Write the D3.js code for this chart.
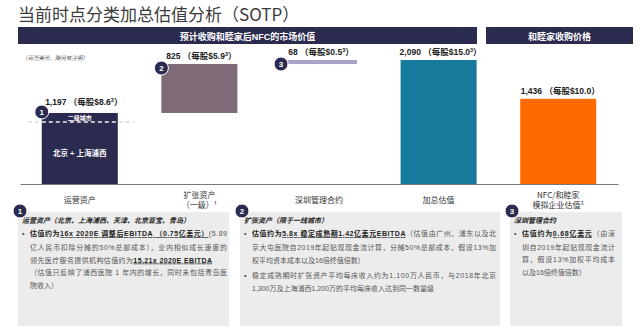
<!DOCTYPE html>
<html><head><meta charset="utf-8">
<script src="https://cdn.jsdelivr.net/npm/d3@7"></script>
<style>
html,body{margin:0;padding:0;background:#fff;}
svg{display:block;font-family:"Liberation Sans","Noto Sans CJK SC",sans-serif;}
.cjk{font-family:"Liberation Sans","Noto Sans CJK SC",sans-serif;}
</style></head>
<body>
<svg id="c" width="640" height="329"></svg>
<script>
// ---------- data ----------
const categories = ["运营资产", "扩张资产", "深圳管理合约", "加总估值", "NFC/和睦家"];
const categoryLines = [["运营资产"], ["扩张资产", "（一级）¹"], ["深圳管理合约"], ["加总估值"], ["NFC/和睦家", "模拟企业估值²"]];
const values = [1197, 825, 68, 2090, 1436];
const isTotal = [false, false, false, true, true];
const perShare = ["8.6", "5.9", "0.5", "15.0", "10.0"];
const perShareNote = ["3", "3", "3", "3", ""];
const badges = ["1", "2", "3", "", ""];
const operatingSplit = [1045, 152]; // 北京+上海浦西, 二级城市
const headers = ["预计收购和睦家后NFC的市场价值", "和睦家收购价格"];

// ---------- styles ----------
const barColors = ["#2b2a4f", "#7f6b77", "#aaa2c9", "#157a9b", "#ff6a00"];
const navy = "#2b2a4f";

const svg = d3.select("#c");

// title
svg.append("text").attr("x", 18).attr("y", 21)
  .attr("font-family", "'Noto Sans CJK SC',sans-serif")
  .attr("font-size", 17).attr("fill", "#3b3b3b")
  .text("当前时点分类加总估值分析（SOTP）");

// header bars
const headerBoxes = [[18, 477], [486, 633]];
headerBoxes.forEach((b, i) => {
  svg.append("rect").attr("x", b[0]).attr("y", 27).attr("width", b[1] - b[0]).attr("height", 17).attr("fill", navy);
  svg.append("text").attr("x", (b[0] + b[1]) / 2).attr("y", 39.5).attr("text-anchor", "middle")
    .attr("font-size", 9).attr("font-weight", "bold").attr("fill", "#fff").text(headers[i]);
});

// unit note
svg.append("text").attr("x", 22).attr("y", 60).attr("font-size", 5.5).attr("font-style", "italic")
  .attr("fill", "#555").text("（百万美元，除另有注明）");

// scales
const x = d3.scaleBand().domain(categories).range([20, 618]).paddingInner(0.3645).paddingOuter(0.182);
const y = d3.scaleLinear().domain([0, 2090]).range([184, 60]);

// waterfall data
let run = 0;
const bars = values.map((v, i) => {
  let b0, b1;
  if (isTotal[i]) { b0 = 0; b1 = v; }
  else { b0 = run; b1 = run + v; run += v; }
  return { cat: categories[i], v, b0, b1, i };
});

const g = svg.append("g");
g.selectAll("rect.bar").data(bars).join("rect").attr("class", "bar")
  .attr("x", d => x(d.cat)).attr("width", x.bandwidth())
  .attr("y", d => y(d.b1)).attr("height", d => y(d.b0) - y(d.b1))
  .attr("fill", (d, i) => barColors[i]);

// dashed split in operating assets bar
const splitY = y(operatingSplit[0]);
g.append("line").attr("x1", 28).attr("x2", 135).attr("y1", splitY).attr("y2", splitY)
  .attr("stroke", "#c8c8c8").attr("stroke-width", 1.2).attr("stroke-dasharray", "4,3");
g.append("line").attr("x1", x(categories[0])).attr("x2", x(categories[0]) + x.bandwidth())
  .attr("y1", splitY).attr("y2", splitY)
  .attr("stroke", "#fff").attr("stroke-width", 1.2).attr("stroke-dasharray", "4,3");
const cx0 = x(categories[0]) + x.bandwidth() / 2;
g.append("text").attr("x", cx0).attr("y", (y(values[0]) + splitY) / 2 + 2.2).attr("text-anchor", "middle")
  .attr("font-size", 6).attr("font-weight", "bold").attr("fill", "#fff").text("二级城市");
g.append("text").attr("x", cx0).attr("y", (splitY + y(0)) / 2 + 3).attr("text-anchor", "middle")
  .attr("font-size", 7.5).attr("font-weight", "bold").attr("fill", "#fff").text("北京 + 上海浦西");

// value labels
const fmt = d3.format(",");
bars.forEach(d => {
  const t = g.append("text").attr("x", x(d.cat) + x.bandwidth() / 2 + (d.i === 0 ? 4 : 2))
    .attr("y", y(d.b1) - (d.i === 0 ? 8 : 5)).attr("text-anchor", "middle")
    .attr("font-size", 8.5).attr("font-weight", "bold").attr("fill", "#222");
  t.append("tspan").text(fmt(d.v) + " （每股$" + perShare[d.i]);
  if (perShareNote[d.i]) t.append("tspan").attr("font-size", 5.5).attr("dy", -3).text(perShareNote[d.i]);
  t.append("tspan").attr("dy", perShareNote[d.i] ? 3 : 0).text("）");
});

// badges in chart
function badge(parent, cx, cy, label) {
  parent.append("circle").attr("cx", cx).attr("cy", cy).attr("r", 7).attr("fill", navy)
    .attr("stroke", "#fff").attr("stroke-width", 1);
  parent.append("text").attr("x", cx).attr("y", cy + 3).attr("text-anchor", "middle")
    .attr("font-size", 8).attr("font-weight", "bold").attr("fill", "#fff").text(label);
}
bars.forEach(d => {
  if (badges[d.i]) badge(g, x(d.cat), y(d.b1) + (d.i === 0 ? -1 : 4), badges[d.i]);
});

// x axis
const ax = svg.append("g").attr("transform", "translate(0,184)")
  .call(d3.axisBottom(x).tickSize(0).tickSizeOuter(0).tickFormat(""));
ax.select(".domain").attr("stroke", "#777").attr("stroke-width", 1);
ax.selectAll(".tick").each(function (c, i) {
  const lines = categoryLines[i];
  const t = d3.select(this).append("text").attr("fill", "#333").attr("font-size", 8)
    .attr("text-anchor", "middle").attr("font-family", "'Noto Sans CJK SC',sans-serif");
  const y0 = lines.length === 1 ? 19 : 14;
  lines.forEach((l, k) => t.append("tspan").attr("x", 0).attr("y", y0 + k * 9.5).text(l));
});

// ---------- bottom panels ----------
const panels = [
  { x0: 18, x1: 229, badge: "1", head: "运营资产（北京、上海浦西、天津、北京亚宝、青岛）",
    lines: [
      { b: true, y: 236, parts: [["估值约为", "b"], ["16x 2020E 调整后EBITDA （0.75亿美元）", "bu"], ["(5.89", "n"]], fit: 197 },
      { y: 250, parts: [["亿人民币扣除分摊的50%总部成本），业内相似成长速度的", "n"]], fit: 197 },
      { y: 262.5, parts: [["领先医疗服务提供机构估值约为", "n"], ["15.21x 2020E EBITDA", "bu"]], fit: 182 },
      { y: 275, parts: [["（估值只反映了浦西医院 1 年内的增长，同时未包括青岛医", "n"]], fit: 197 },
      { y: 287.5, parts: [["院收入）", "n"]] }
    ] },
  { x0: 240, x1: 500, badge: "2", head: "扩张资产（限于一线城市）",
    lines: [
      { b: true, y: 236, parts: [["估值约为", "b"], ["5.8x 稳定成熟期1.42亿美元EBITDA", "bu"], ["（估值由广州、浦东以及北", "n"]], fit: 244 },
      { y: 250, parts: [["京大屯医院自2019年起贴现现金流计算，分摊50%总部成本，假设13%加", "n"]], fit: 244 },
      { y: 262.5, parts: [["权平均资本成本以及16倍终值倍数）", "n"]] },
      { b: true, y: 278, parts: [["稳定成熟期时扩张资产平均每床收入约为1,100万人民币，与2018年北京", "n"]], fit: 244 },
      { y: 291, parts: [["1,300万及上海浦西1,200万的平均每床收入达到同一数量级", "n"]] }
    ] },
  { x0: 510, x1: 622, badge: "3", head: "深圳管理合约",
    lines: [
      { b: true, y: 236, parts: [["估值约为", "b"], ["0.68亿美元", "bu"], ["（由深", "n"]], fit: 93 },
      { y: 249.5, parts: [["圳自2019年起贴现现金流计", "n"]], fit: 93 },
      { y: 262, parts: [["算，假设13%加权平均成本", "n"]], fit: 93 },
      { y: 275, parts: [["以及16倍终值倍数）", "n"]] }
    ] }
];

panels.forEach(p => {
  const pg = svg.append("g");
  pg.append("rect").attr("x", p.x0).attr("y", 212).attr("width", p.x1 - p.x0).attr("height", 114).attr("fill", "#ececec");
  pg.append("text").attr("x", p.x0 + 4).attr("y", 223).attr("font-size", 7).attr("font-weight", "bold")
    .attr("font-style", "italic").attr("fill", "#222").text(p.head);
  p.lines.forEach(l => {
    const tx = p.x0 + 12;
    if (l.b) pg.append("text").attr("x", p.x0 + 4).attr("y", l.y).attr("font-size", 7).attr("fill", "#444").text("•");
    const t = pg.append("text").attr("x", tx).attr("y", l.y).attr("font-size", 7).attr("fill", "#555");
    if (l.fit) t.attr("textLength", l.fit).attr("lengthAdjust", "spacing");
    l.parts.forEach(pt => {
      const s = t.append("tspan").text(pt[0]);
      if (pt[1] !== "n") s.attr("font-weight", "bold").attr("fill", "#222");
      if (pt[1] === "bu") s.attr("text-decoration", "underline");
    });
  });
  badge(pg, p.x0 + 2, 211, p.badge);
});
</script>
</body></html>
